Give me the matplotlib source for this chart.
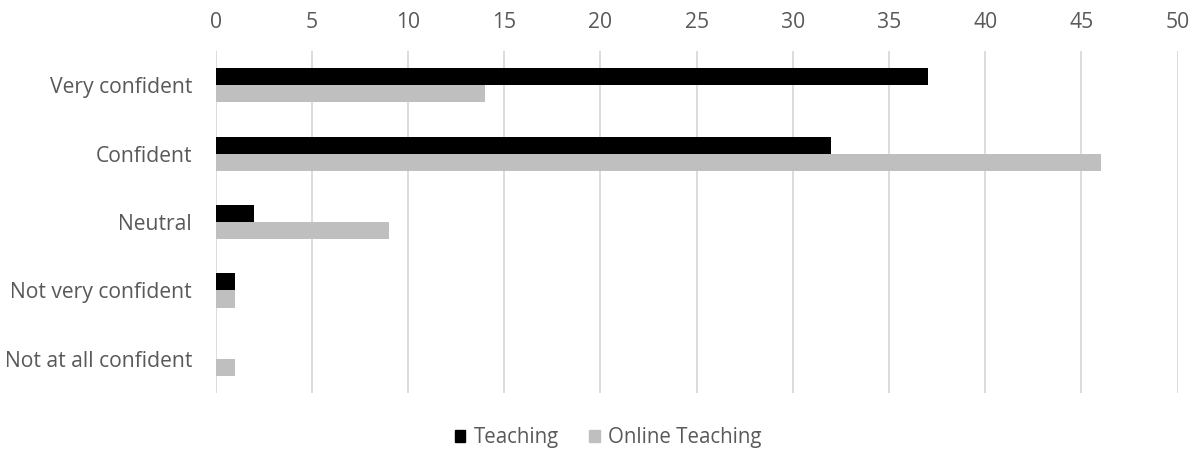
import matplotlib
matplotlib.use("Agg")
import matplotlib.pyplot as plt
import numpy as np
from matplotlib.patches import Patch

categories = ["Very confident", "Confident", "Neutral", "Not very confident", "Not at all confident"]
teaching = [37, 32, 2, 1, 0]
online_teaching = [14, 46, 9, 1, 1]
x_ticks = [0, 5, 10, 15, 20, 25, 30, 35, 40, 45, 50]

TEXT = "#595959"
GRID = "#D9D9D9"
FS = 15.2

plt.rcParams["font.family"] = ["Open Sans", "DejaVu Sans"]

fig = plt.figure(figsize=(11.98, 4.59), dpi=100)
ax = fig.add_axes([0.180, 0.1438, 0.803, 0.745])

y = np.arange(len(categories))
bar_h = 0.25
ax.barh(y - bar_h / 2, teaching, height=bar_h, color="#000000", label="Teaching")
ax.barh(y + bar_h / 2, online_teaching, height=bar_h, color="#BFBFBF", label="Online Teaching")

ax.set_xlim(0, 50)
ax.set_ylim(len(categories) - 0.5, -0.5)
ax.set_xticks(x_ticks)
ax.set_yticks(y)
ax.set_yticklabels(categories)
ax.xaxis.tick_top()
ax.tick_params(axis="x", length=0, pad=13, labelsize=FS, labelcolor=TEXT)
ax.tick_params(axis="y", length=0, pad=17, labelsize=FS, labelcolor=TEXT)
ax.grid(axis="x", color=GRID, linewidth=1.3)
ax.set_axisbelow(True)
for spine in ax.spines.values():
    spine.set_visible(False)

handles = [Patch(color="#000000", label="Teaching"), Patch(color="#BFBFBF", label="Online Teaching")]
fig.legend(handles=handles, loc="center", bbox_to_anchor=(0.5075, 0.046), ncol=2, frameon=False,
           fontsize=14.8, labelcolor=TEXT, handlelength=0.53, handleheight=0.53, handletextpad=0.4,
           columnspacing=1.45)

fig.savefig("out.png", dpi=100)
